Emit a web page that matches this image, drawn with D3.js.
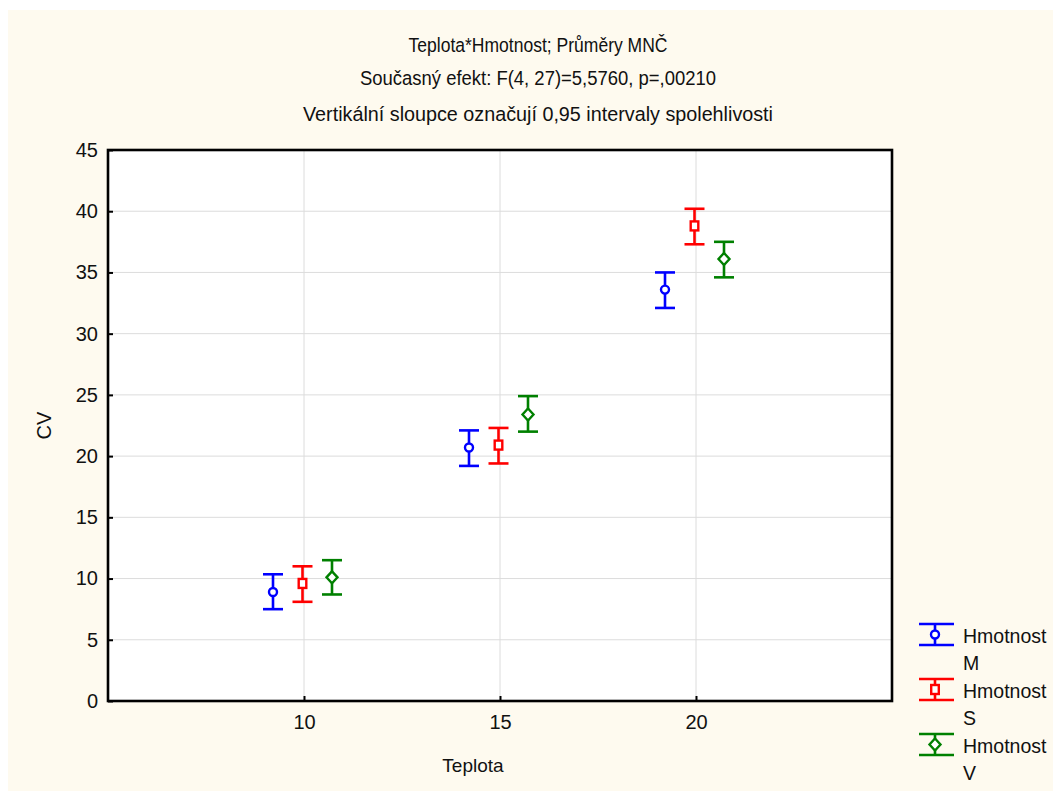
<!DOCTYPE html>
<html>
<head>
<meta charset="utf-8">
<script src="https://cdn.jsdelivr.net/npm/d3@7"></script>
<style>
  html, body { margin: 0; padding: 0; background: #ffffff; }
  svg { display: block; font-family: "Liberation Sans", Arial, sans-serif; }
</style>
</head>
<body>
<svg id="chart" width="1053" height="791"></svg>
<script>
// Least-squares means of CV by temperature (Teplota) and weight group (Hmotnost),
// with 0.95 confidence interval bounds.
const temps = [10, 15, 20];
const groups = ["M", "S", "V"];
const groupColors = ["#0000ff", "#ff0000", "#008000"];
const groupShapes = ["circle", "square", "diamond"];

const meanM = [8.9, 20.7, 33.6];
const lowM  = [7.5, 19.2, 32.1];
const highM = [10.35, 22.1, 35.0];

const meanS = [9.6, 20.9, 38.8];
const lowS  = [8.1, 19.4, 37.3];
const highS = [11.0, 22.3, 40.2];

const meanV = [10.1, 23.4, 36.1];
const lowV  = [8.7, 22.0, 34.6];
const highV = [11.5, 24.9, 37.5];

const yTicks = [0, 5, 10, 15, 20, 25, 30, 35, 40, 45];
const xTicks = [10, 15, 20];

const titleLines = [
  "Teplota*Hmotnost; Průměry MNČ",
  "Současný efekt: F(4, 27)=5,5760, p=,00210",
  "Vertikální sloupce označují 0,95 intervaly spolehlivosti"
];
const xLabel = "Teplota";
const yLabel = "CV";
const legendName = "Hmotnost";

const seriesData = [
  { key: "M", mean: meanM, low: lowM, high: highM },
  { key: "S", mean: meanS, low: lowS, high: highS },
  { key: "V", mean: meanV, low: lowV, high: highV }
];

const svg = d3.select("#chart");
const W = 1053, H = 791;
const plot = { left: 108, top: 150, right: 892, bottom: 701 };

// Cream panel behind everything
svg.append("rect").attr("x", 8).attr("y", 10).attr("width", W - 8).attr("height", H - 10)
  .attr("fill", "#fefaef");

const x = d3.scaleLinear().domain([5, 25]).range([plot.left, plot.right]);
const y = d3.scaleLinear().domain([0, 45]).range([plot.bottom, plot.top]);
const dodge = d3.scalePoint().domain(groups).range([-31, 28]);

// Plot background
svg.append("rect").attr("x", plot.left).attr("y", plot.top)
  .attr("width", plot.right - plot.left).attr("height", plot.bottom - plot.top)
  .attr("fill", "#ffffff");

// Grid lines
const grid = svg.append("g");
grid.selectAll("line.h").data(yTicks.filter(t => t > 0 && t < 45)).join("line")
  .attr("x1", plot.left).attr("x2", plot.right)
  .attr("y1", d => y(d)).attr("y2", d => y(d))
  .attr("stroke", "#dcdcdc").attr("stroke-width", 1);
grid.selectAll("line.v").data(xTicks).join("line")
  .attr("y1", plot.top).attr("y2", plot.bottom)
  .attr("x1", d => x(d)).attr("x2", d => x(d))
  .attr("stroke", "#dcdcdc").attr("stroke-width", 1);

// Axes with inward ticks
const yAxis = d3.axisLeft(y).tickValues(yTicks).tickSize(-5).tickPadding(10).tickFormat(d3.format("d"));
const gy = svg.append("g").attr("transform", `translate(${plot.left},0)`).call(yAxis);
gy.select(".domain").remove();
gy.selectAll(".tick line").attr("stroke", "#000").attr("stroke-width", 2);
gy.selectAll(".tick text").attr("font-size", 20).attr("fill", "#111")
  .attr("font-family", "Liberation Sans, Arial, sans-serif");

const xAxis = d3.axisBottom(x).tickValues(xTicks).tickSize(-5).tickPadding(14).tickFormat(d3.format("d"));
const gx = svg.append("g").attr("transform", `translate(0,${plot.bottom})`).call(xAxis);
gx.select(".domain").remove();
gx.selectAll(".tick line").attr("stroke", "#000").attr("stroke-width", 2);
gx.selectAll(".tick text").attr("font-size", 20).attr("fill", "#111")
  .attr("font-family", "Liberation Sans, Arial, sans-serif");

// Frame
svg.append("rect").attr("x", plot.left).attr("y", plot.top)
  .attr("width", plot.right - plot.left).attr("height", plot.bottom - plot.top)
  .attr("fill", "none").attr("stroke", "#000").attr("stroke-width", 2.6);

// Marker drawing helper
function drawMarker(g, shape, cx, cy, color) {
  if (shape === "circle") {
    g.append("circle").attr("cx", cx).attr("cy", cy).attr("r", 4)
      .attr("fill", "#fff").attr("stroke", color).attr("stroke-width", 2.4);
  } else if (shape === "square") {
    g.append("rect").attr("x", cx - 3.8).attr("y", cy - 4.5).attr("width", 7.6).attr("height", 9)
      .attr("fill", "#fff").attr("stroke", color).attr("stroke-width", 2.4);
  } else {
    g.append("path").attr("d", `M${cx},${cy - 6}L${cx + 5.5},${cy}L${cx},${cy + 6}L${cx - 5.5},${cy}Z`)
      .attr("fill", "#fff").attr("stroke", color).attr("stroke-width", 2.4);
  }
}

// Error bars and means
const cap = 10;
seriesData.forEach((s, si) => {
  const color = groupColors[si];
  const shape = groupShapes[si];
  const g = svg.append("g");
  temps.forEach((t, i) => {
    const cx = x(t) + dodge(s.key);
    const yl = y(s.low[i]), yh = y(s.high[i]), ym = y(s.mean[i]);
    g.append("line").attr("x1", cx).attr("x2", cx).attr("y1", yh).attr("y2", yl)
      .attr("stroke", color).attr("stroke-width", 2.6);
    g.append("line").attr("x1", cx - cap).attr("x2", cx + cap).attr("y1", yh).attr("y2", yh)
      .attr("stroke", color).attr("stroke-width", 2.6);
    g.append("line").attr("x1", cx - cap).attr("x2", cx + cap).attr("y1", yl).attr("y2", yl)
      .attr("stroke", color).attr("stroke-width", 2.6);
    drawMarker(g, shape, cx, ym, color);
  });
});

// Titles (condensed to fit their line widths)
const titleY = [52, 85, 121];
const titleW = [259, 356, 470];
titleLines.forEach((txt, i) => {
  svg.append("text").attr("x", 538).attr("y", titleY[i]).attr("text-anchor", "middle")
    .attr("font-size", 20.5).attr("fill", "#111")
    .attr("textLength", titleW[i]).attr("lengthAdjust", "spacingAndGlyphs")
    .text(txt);
});

// Axis labels
svg.append("text").attr("x", (plot.left + plot.right) / 2 - 27).attr("y", 772)
  .attr("text-anchor", "middle").attr("font-size", 19).attr("fill", "#111").text(xLabel);
svg.append("text").attr("transform", `translate(51,${(plot.top + plot.bottom) / 2}) rotate(-90)`)
  .attr("text-anchor", "middle").attr("font-size", 20).attr("fill", "#111").text(yLabel);

// Legend
const legTop = [624, 679, 734];
seriesData.forEach((s, si) => {
  const color = groupColors[si];
  const g = svg.append("g");
  const t = legTop[si], b = t + 21, cx = 935;
  g.append("line").attr("x1", 919).attr("x2", 954).attr("y1", t).attr("y2", t)
    .attr("stroke", color).attr("stroke-width", 2.6);
  g.append("line").attr("x1", 919).attr("x2", 954).attr("y1", b).attr("y2", b)
    .attr("stroke", color).attr("stroke-width", 2.6);
  g.append("line").attr("x1", cx).attr("x2", cx).attr("y1", t).attr("y2", b)
    .attr("stroke", color).attr("stroke-width", 2.6);
  drawMarker(g, groupShapes[si], cx, (t + b) / 2, color);
  g.append("text").attr("x", 963).attr("y", t + 19).attr("font-size", 19.5).attr("fill", "#111")
    .text(legendName);
  g.append("text").attr("x", 963).attr("y", t + 46).attr("font-size", 19.5).attr("fill", "#111")
    .text(s.key);
});
</script>
</body>
</html>
